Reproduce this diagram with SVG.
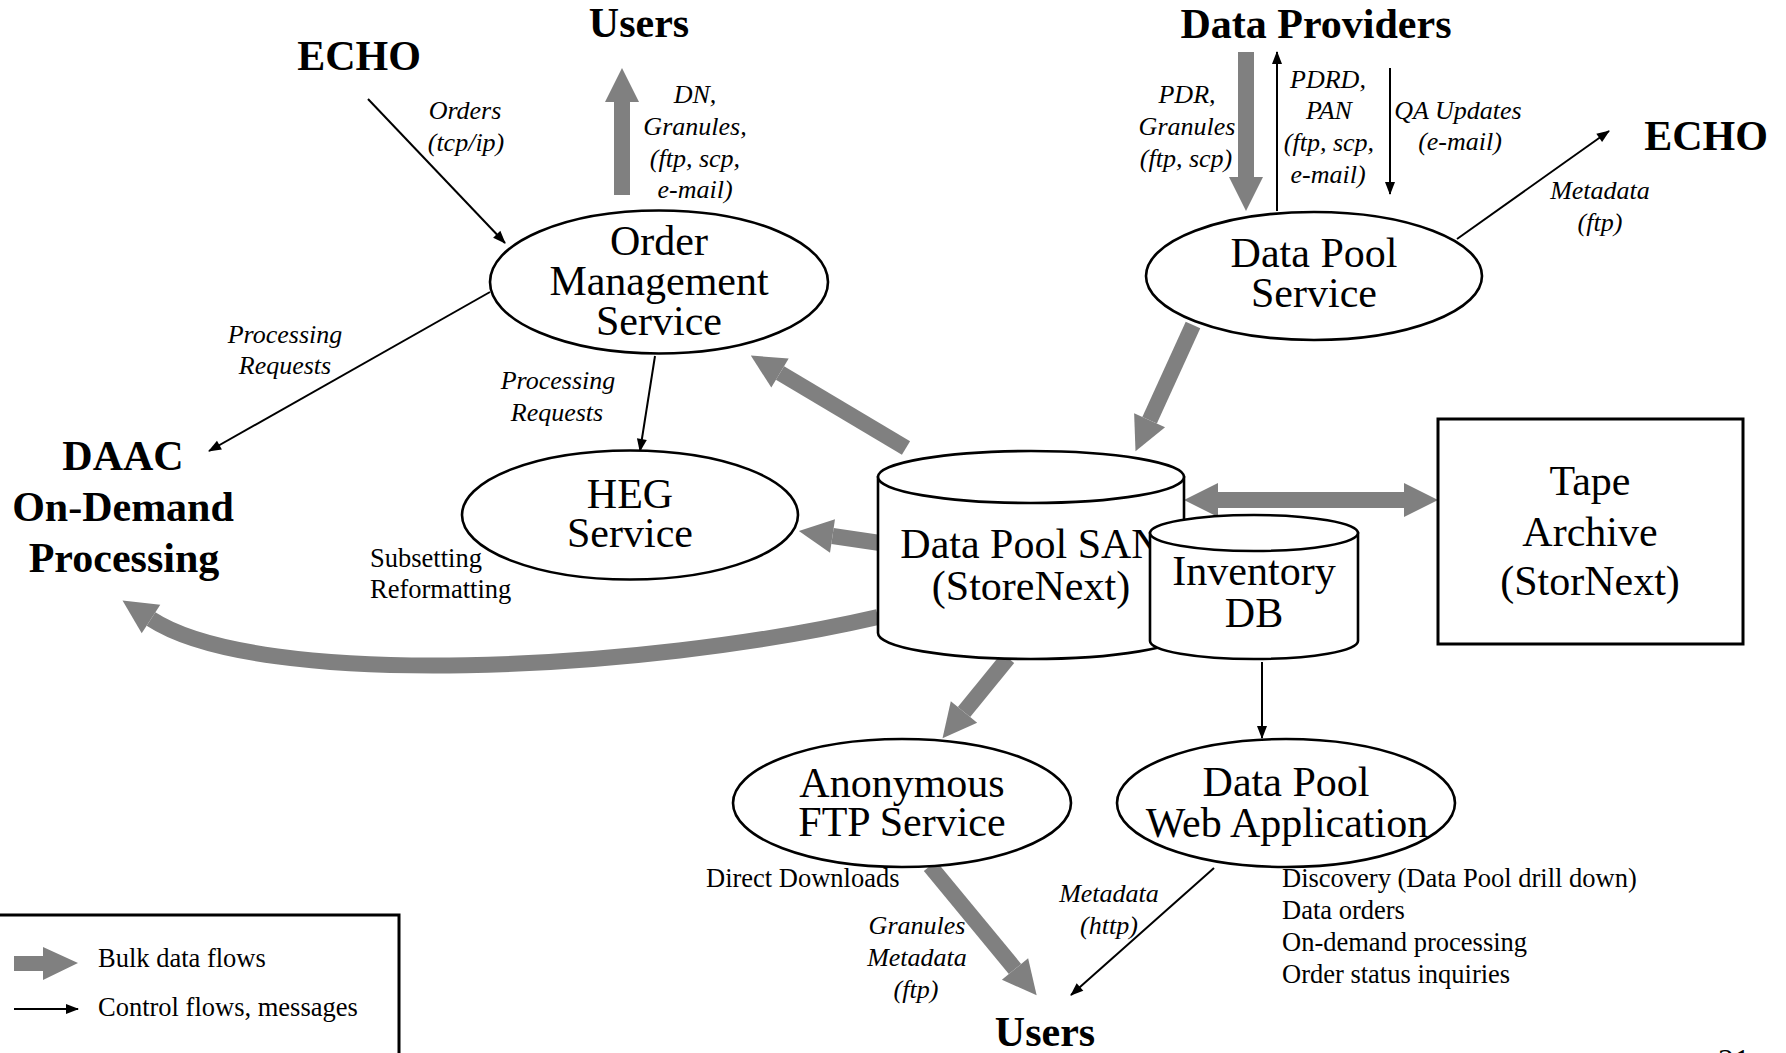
<svg xmlns="http://www.w3.org/2000/svg" width="1786" height="1053" viewBox="0 0 1786 1053">
<style>
.big{font-family:"Liberation Serif","Times New Roman",serif;font-weight:bold;font-size:42px;fill:#000;text-anchor:middle}
.node{font-family:"Liberation Serif","Times New Roman",serif;font-size:42px;fill:#000;text-anchor:middle}
.lab{font-family:"Liberation Serif","Times New Roman",serif;font-style:italic;font-size:26px;fill:#000;text-anchor:middle}
.note{font-family:"Liberation Serif","Times New Roman",serif;font-size:26.5px;fill:#000}
.shape{fill:#fff;stroke:#000;stroke-width:2.6}
.bulk{fill:none;stroke:#808080;stroke-width:16;marker-end:url(#gh)}
.ctl{fill:none;stroke:#000;stroke-width:2;marker-end:url(#bh)}
</style>
<defs>
<marker id="gh" markerUnits="userSpaceOnUse" markerWidth="36" markerHeight="36" refX="0" refY="17" orient="auto" overflow="visible"><path d="M0,0 L34,17 L0,34 Z" fill="#808080"/></marker>
<marker id="gh2" markerUnits="userSpaceOnUse" markerWidth="36" markerHeight="36" refX="0" refY="17" orient="auto-start-reverse" overflow="visible"><path d="M0,0 L34,17 L0,34 Z" fill="#808080"/></marker>
<marker id="bh" markerUnits="userSpaceOnUse" markerWidth="14" markerHeight="12" refX="12" refY="5" orient="auto" overflow="visible"><path d="M0,0 L13,5 L0,10 Z" fill="#000"/></marker>
</defs>
<rect width="1786" height="1053" fill="#fff"/>

<g id="connectors">
<line class="bulk" x1="622" y1="195" x2="622" y2="102"/>
<line class="bulk" x1="1246" y1="52" x2="1246" y2="177"/>
<line class="bulk" x1="1193" y1="325" x2="1149.6" y2="420.3"/>
<line class="bulk" x1="906" y1="448" x2="780" y2="373"/>
<line class="bulk" x1="880" y1="543" x2="832.5" y2="536"/>
<path class="bulk" d="M878,617 C640,672 260,690 151,619"/>
<line x1="1218" y1="500" x2="1404" y2="500" stroke="#808080" stroke-width="16" marker-start="url(#gh2)" marker-end="url(#gh2)"/>
<line class="bulk" x1="1008" y1="658" x2="964" y2="712"/>
<line class="bulk" x1="930" y1="866" x2="1015" y2="969"/>
<line class="ctl" x1="368" y1="99" x2="505" y2="243"/>
<line class="ctl" x1="490" y1="292" x2="209" y2="451"/>
<line class="ctl" x1="655" y1="356" x2="640" y2="451"/>
<line class="ctl" x1="1277" y1="211" x2="1277" y2="52"/>
<line class="ctl" x1="1390" y1="68" x2="1390" y2="194"/>
<line class="ctl" x1="1457" y1="239" x2="1609" y2="131"/>
<line class="ctl" x1="1262" y1="662" x2="1262" y2="738"/>
<line class="ctl" x1="1214" y1="868" x2="1071" y2="995"/>
</g>

<g id="labels">
<text class="lab" x="465" y="119">Orders</text>
<text class="lab" x="466" y="151">(tcp/ip)</text>
<text class="lab" x="695" y="103">DN,</text>
<text class="lab" x="695" y="135">Granules,</text>
<text class="lab" x="695" y="167">(ftp, scp,</text>
<text class="lab" x="695" y="198">e-mail)</text>
<text class="lab" x="285" y="343">Processing</text>
<text class="lab" x="285" y="374">Requests</text>
<text class="lab" x="558" y="389">Processing</text>
<text class="lab" x="557" y="421">Requests</text>
<text class="lab" x="1187" y="103">PDR,</text>
<text class="lab" x="1187" y="135">Granules</text>
<text class="lab" x="1186" y="167">(ftp, scp)</text>
<text class="lab" x="1328" y="88">PDRD,</text>
<text class="lab" x="1329" y="119">PAN</text>
<text class="lab" x="1329" y="151">(ftp, scp,</text>
<text class="lab" x="1328" y="183">e-mail)</text>
<text class="lab" x="1458" y="119">QA Updates</text>
<text class="lab" x="1460" y="150">(e-mail)</text>
<text class="lab" x="1600" y="199">Metadata</text>
<text class="lab" x="1600" y="231">(ftp)</text>
<text class="lab" x="917" y="934">Granules</text>
<text class="lab" x="917" y="966">Metadata</text>
<text class="lab" x="916" y="998">(ftp)</text>
<text class="lab" x="1109" y="902">Metadata</text>
<text class="lab" x="1109" y="934">(http)</text>
<text class="note" x="370" y="567">Subsetting</text>
<text class="note" x="370" y="598">Reformatting</text>
<text class="note" x="706" y="887">Direct Downloads</text>
<text class="note" x="1282" y="887">Discovery (Data Pool drill down)</text>
<text class="note" x="1282" y="919">Data orders</text>
<text class="note" x="1282" y="951">On-demand processing</text>
<text class="note" x="1282" y="983">Order status inquiries</text>
<text class="note" x="1718" y="1071" style="font-size:32px">21</text>
</g>

<g id="users-top"><text class="big" x="639" y="37">Users</text></g>
<g id="echo-left"><text class="big" x="359" y="70">ECHO</text></g>
<g id="data-providers"><text class="big" x="1316" y="38">Data Providers</text></g>
<g id="echo-right"><text class="big" x="1706" y="150">ECHO</text></g>
<g id="daac">
<text class="big" x="123" y="470">DAAC</text>
<text class="big" x="123" y="521">On-Demand</text>
<text class="big" x="124" y="572">Processing</text>
</g>
<g id="users-bottom"><text class="big" x="1045" y="1046">Users</text></g>

<g id="order-management">
<ellipse class="shape" cx="659" cy="282" rx="169" ry="71.5"/>
<text class="node" x="659" y="255">Order</text>
<text class="node" x="659" y="295">Management</text>
<text class="node" x="659" y="335">Service</text>
</g>
<g id="heg-service">
<ellipse class="shape" cx="630" cy="515" rx="168" ry="64.5"/>
<text class="node" x="630" y="508">HEG</text>
<text class="node" x="630" y="547">Service</text>
</g>
<g id="data-pool-service">
<ellipse class="shape" cx="1314" cy="276" rx="168" ry="64"/>
<text class="node" x="1314" y="267">Data Pool</text>
<text class="node" x="1314" y="307">Service</text>
</g>
<g id="data-pool-san">
<path class="shape" d="M878,477 V633 A153,26 0 0 0 1184,633 V477 Z"/>
<ellipse class="shape" cx="1031" cy="477" rx="153" ry="26"/>
<text class="node" x="1031" y="558">Data Pool SAN</text>
<text class="node" x="1031" y="600">(StoreNext)</text>
</g>
<g id="inventory-db">
<path class="shape" d="M1150,533 V641 A104,18 0 0 0 1358,641 V533 Z"/>
<ellipse class="shape" cx="1254" cy="533" rx="104" ry="18"/>
<text class="node" x="1254" y="585">Inventory</text>
<text class="node" x="1254" y="627">DB</text>
</g>
<g id="tape-archive">
<rect x="1438" y="419" width="305" height="225" fill="#fff" stroke="#000" stroke-width="3"/>
<text class="node" x="1590" y="495">Tape</text>
<text class="node" x="1590" y="546">Archive</text>
<text class="node" x="1590" y="595">(StorNext)</text>
</g>
<g id="anonymous-ftp">
<ellipse class="shape" cx="902" cy="803" rx="169" ry="64"/>
<text class="node" x="902" y="797">Anonymous</text>
<text class="node" x="902" y="836">FTP Service</text>
</g>
<g id="web-app">
<ellipse class="shape" cx="1286" cy="803" rx="169" ry="64"/>
<text class="node" x="1286" y="796">Data Pool</text>
<text class="node" x="1287" y="837">Web Application</text>
</g>

<g id="legend">
<rect x="-5" y="915" width="404" height="200" fill="none" stroke="#000" stroke-width="3"/>
<path d="M14,956 H43 V947 L78,963 L43,980 V971 H14 Z" fill="#808080"/>
<line class="ctl" x1="14" y1="1009" x2="78" y2="1009"/>
<text class="note" x="98" y="967">Bulk data flows</text>
<text class="note" x="98" y="1016">Control flows, messages</text>
</g>
</svg>
